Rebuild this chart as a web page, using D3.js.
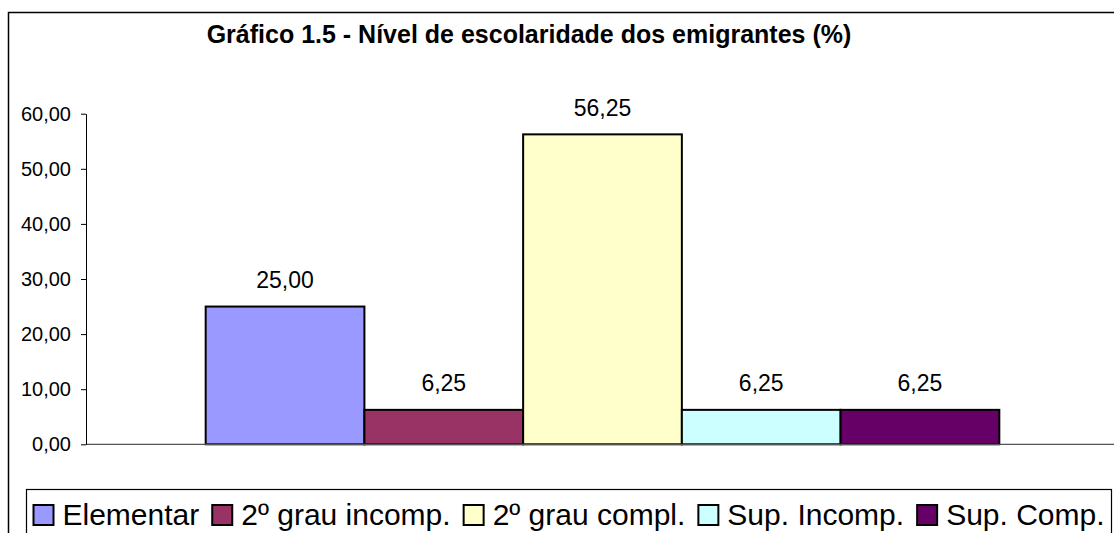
<!DOCTYPE html>
<html>
<head>
<meta charset="utf-8">
<script src="https://cdn.jsdelivr.net/npm/d3@7"></script>
<style>
  body { margin: 0; background: #fff; }
  text { font-family: Arial, "Liberation Sans", sans-serif; fill: #000; }
</style>
</head>
<body>
<svg id="chart" width="1114" height="533"></svg>
<script>
const title = "Gráfico 1.5 - Nível de escolaridade dos emigrantes (%)";
const series = ["Elementar", "2º grau incomp.", "2º grau compl.", "Sup. Incomp.", "Sup. Comp."];
const values = [25.00, 6.25, 56.25, 6.25, 6.25];
const colors = ["#9999FF", "#993366", "#FFFFCC", "#CCFFFF", "#660066"];
const yTicks = [0, 10, 20, 30, 40, 50, 60];

const fmt = v => d3.format(".2f")(v).replace(".", ",");

const svg = d3.select("#chart");
const plot = { left: 86, right: 1119, top: 113.7, bottom: 444.3 };

// outer frame
svg.append("rect")
    .attr("x", 8.5).attr("y", 12.5)
    .attr("width", 1120).attr("height", 540)
    .attr("fill", "none")
    .attr("stroke", "#000")
    .attr("stroke-width", 1.5);

svg.append("text")
    .attr("x", 529).attr("y", 43)
    .attr("text-anchor", "middle")
    .style("font-size", "25px")
    .style("font-weight", "bold")
    .text(title);

const x0 = d3.scaleBand()
    .domain(["all"])
    .range([plot.left, plot.right])
    .paddingOuter(0.1508)
    .paddingInner(0);

const x1 = d3.scaleBand()
    .domain(series)
    .range([0, x0.bandwidth()]);

const y = d3.scaleLinear()
    .domain([0, 60])
    .range([plot.bottom, plot.top]);

const g = svg.append("g");

g.selectAll(".bar")
    .data(series)
    .enter()
    .append("rect")
    .attr("class", "bar")
    .attr("x", d => x0("all") + x1(d))
    .attr("y", (d, i) => y(values[i]))
    .attr("width", x1.bandwidth())
    .attr("height", (d, i) => y(0) - y(values[i]))
    .attr("fill", (d, i) => colors[i])
    .attr("stroke", "#000")
    .attr("stroke-width", 2);

// baseline
g.append("line")
    .attr("x1", plot.left).attr("x2", plot.right)
    .attr("y1", y(0)).attr("y2", y(0))
    .attr("stroke", "#555")
    .attr("stroke-width", 1.2);

const yAxis = svg.append("g")
    .attr("transform", `translate(${plot.left},0)`)
    .call(d3.axisLeft(y).tickValues(yTicks).tickFormat(fmt).tickSize(5).tickSizeOuter(0).tickPadding(10));
yAxis.select(".domain").attr("stroke", "#000");
yAxis.selectAll(".tick line").attr("stroke", "#000");
yAxis.selectAll("text")
    .style("font-size", "20px")
    .style("font-family", "Arial, 'Liberation Sans', sans-serif")
    .attr("fill", "#000");

g.selectAll(".lbl")
    .data(series)
    .enter()
    .append("text")
    .attr("class", "lbl")
    .attr("x", d => x0("all") + x1(d) + x1.bandwidth() / 2)
    .attr("y", (d, i) => y(values[i]) - 18.5)
    .attr("text-anchor", "middle")
    .style("font-size", "23px")
    .text((d, i) => fmt(values[i]));

// legend
svg.append("rect")
    .attr("x", 26.5).attr("y", 489.5)
    .attr("width", 1085).attr("height", 60)
    .attr("fill", "#fff")
    .attr("stroke", "#000")
    .attr("stroke-width", 1.2);

let lx = 33.5;
series.forEach((s, i) => {
    svg.append("rect")
        .attr("x", lx).attr("y", 505)
        .attr("width", 20).attr("height", 20)
        .attr("fill", colors[i])
        .attr("stroke", "#000")
        .attr("stroke-width", 2);
    const t = svg.append("text")
        .attr("x", lx + 29).attr("y", 525)
        .style("font-size", "30px")
        .text(s);
    lx += 29 + t.node().getComputedTextLength() + 13;
});
</script>
</body>
</html>
